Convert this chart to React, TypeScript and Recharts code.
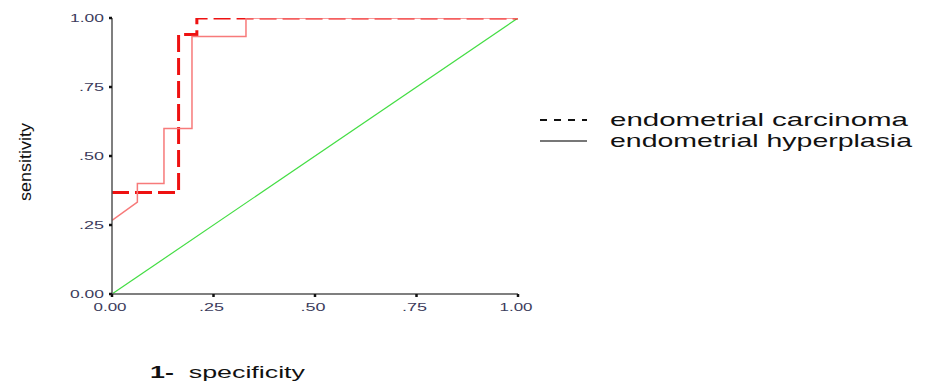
import React from 'react';
import { LineChart, Line, XAxis, YAxis } from 'recharts';

const tickValues = [0, 0.25, 0.5, 0.75, 1];
const tickLabels = ['0.00', '.25', '.50', '.75', '1.00'];
const seriesNames = ['endometrial carcinoma', 'endometrial hyperplasia'];

const carcinoma = [
  { x: 0, y: 0.368 },
  { x: 0.164, y: 0.368 },
  { x: 0.164, y: 0.94 },
  { x: 0.209, y: 0.94 },
  { x: 0.209, y: 1 },
  { x: 1, y: 1 },
];

const hyperplasia = [
  { x: 0, y: 0.267 },
  { x: 0.0625, y: 0.333 },
  { x: 0.0625, y: 0.4 },
  { x: 0.128, y: 0.4 },
  { x: 0.128, y: 0.6 },
  { x: 0.197, y: 0.6 },
  { x: 0.197, y: 0.933 },
  { x: 0.33, y: 0.933 },
  { x: 0.33, y: 1 },
  { x: 1, y: 1 },
];

const reference = [
  { x: 0, y: 0 },
  { x: 1, y: 1 },
];

const labelFor = (v: number) => tickLabels[tickValues.indexOf(v)] ?? String(v);

const XTick = (props: any) => {
  const { x, y, payload } = props;
  const label = labelFor(payload.value);
  return (
    <text x={x - 2} y={y + 12} textAnchor="middle" fontSize={11} fill="#3c3c5c"
      fontFamily="Liberation Sans, Arial, sans-serif"
      textLength={label.length === 4 ? 33 : 25} lengthAdjust="spacingAndGlyphs">
      {label}
    </text>
  );
};

const YTick = (props: any) => {
  const { x, y, payload } = props;
  const label = labelFor(payload.value);
  return (
    <text x={x - 3} y={y + 4} textAnchor="end" fontSize={11} fill="#3c3c5c"
      fontFamily="Liberation Sans, Arial, sans-serif"
      textLength={label.length === 4 ? 34 : 25} lengthAdjust="spacingAndGlyphs">
      {label}
    </text>
  );
};

export default function App() {
  return (
    <div style={{ position: 'absolute', left: 0, top: 0, width: 928, height: 381, background: '#fff' }}>
      <LineChart width={928} height={381} margin={{ top: 18, right: 410, bottom: 57, left: 52 }}>
        <XAxis xAxisId="top" orientation="top" type="number" dataKey="x" domain={[0, 1]}
          height={0} tick={false} tickLine={false} axisLine={{ stroke: '#333', strokeWidth: 1.2 }} />
        <YAxis yAxisId="right" orientation="right" type="number" dataKey="y" domain={[0, 1]}
          width={0} tick={false} tickLine={false} axisLine={{ stroke: '#444', strokeWidth: 1.2 }} />
        <XAxis type="number" dataKey="x" domain={[0, 1]} ticks={tickValues} height={30}
          tick={<XTick />} tickSize={3} tickLine={{ stroke: '#111', strokeWidth: 2.5 }}
          axisLine={{ stroke: '#555', strokeWidth: 1.5 }} allowDataOverflow />
        <YAxis type="number" dataKey="y" domain={[0, 1]} ticks={tickValues} width={60}
          tick={<YTick />} tickSize={3} tickLine={{ stroke: '#111', strokeWidth: 2.5 }}
          axisLine={{ stroke: '#555', strokeWidth: 1.5 }} allowDataOverflow />
        <Line data={reference} dataKey="y" type="linear" stroke="#44dd44" strokeWidth={1.2}
          dot={false} isAnimationActive={false} legendType="none" name="reference" />
        <Line data={carcinoma} dataKey="y" type="linear" stroke="#ee1111" strokeWidth={3}
          strokeDasharray="17 6" dot={false} isAnimationActive={false} name={seriesNames[0]} />
        <Line data={hyperplasia} dataKey="y" type="linear" stroke="#f77a7a" strokeWidth={1.5}
          dot={false} isAnimationActive={false} name={seriesNames[1]} />
      </LineChart>
      <svg width={928} height={381} style={{ position: 'absolute', left: 0, top: 0, pointerEvents: 'none' }}>
        {seriesNames.map((name, i) => {
          const cy = 120 + i * 21;
          const dashed = i === 0;
          return (
            <g key={name}>
              <line x1={540} x2={587} y1={cy} y2={cy}
                stroke={dashed ? '#111' : '#777'} strokeWidth={2}
                strokeDasharray={dashed ? '7 7' : undefined} />
              <text x={610} y={cy + 6} fontSize={19} fill="#111"
                fontFamily="Liberation Sans, Arial, sans-serif"
                textLength={dashed ? 298 : 302} lengthAdjust="spacingAndGlyphs">
                {name}
              </text>
            </g>
          );
        })}
        <text x={0} y={0} transform="translate(31,162) rotate(-90)" textAnchor="middle" fontSize={16}
          fill="#111" fontFamily="Liberation Sans, Arial, sans-serif" textLength={78} lengthAdjust="spacingAndGlyphs">
          sensitivity
        </text>
        <text x={150} y={378} fontSize={16} fill="#111" fontFamily="Liberation Sans, Arial, sans-serif"
          textLength={155} lengthAdjust="spacingAndGlyphs">
          <tspan fontWeight="bold">1-</tspan>{'\u00a0\u00a0specificity'}
        </text>
      </svg>
    </div>
  );
}
